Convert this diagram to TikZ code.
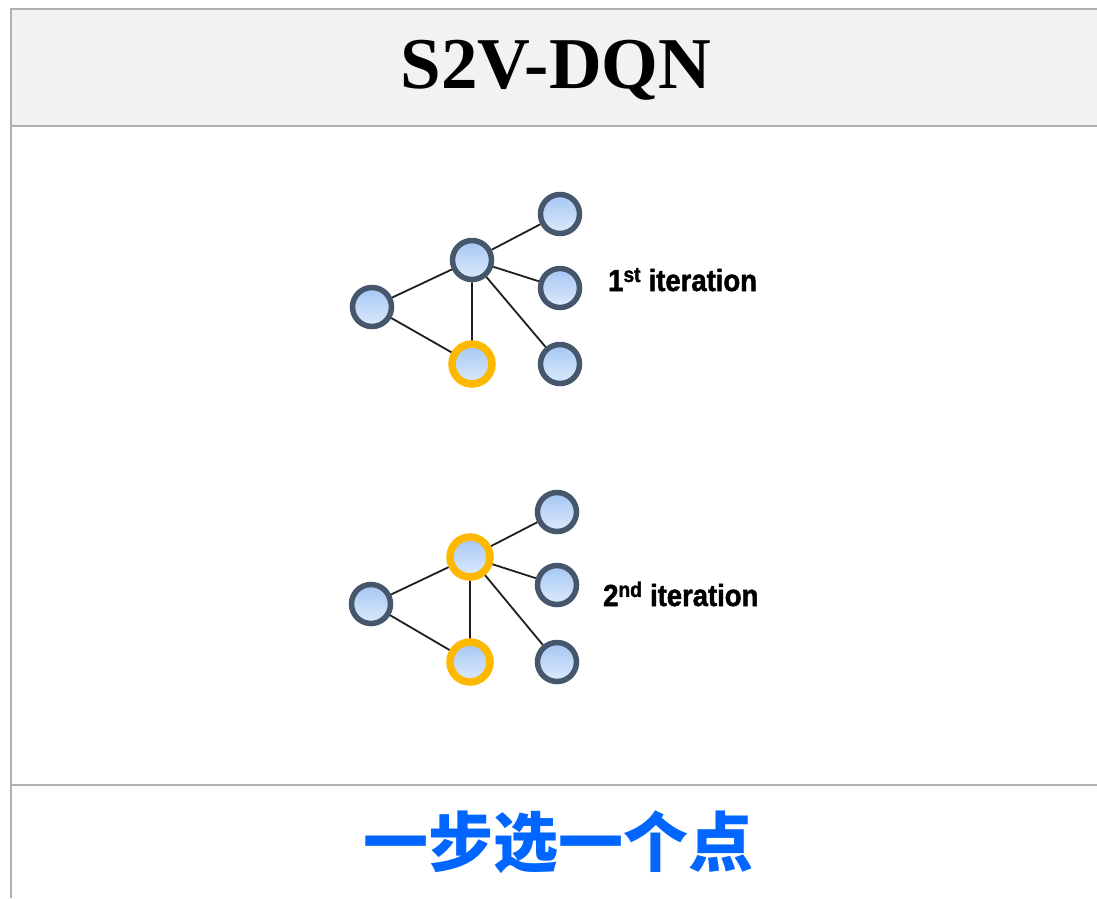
\documentclass[tikz,border=0pt]{standalone}
\usepackage{fontspec}
\setmainfont{Liberation Serif}
\newfontfamily\labelfont[FakeStretch=0.9, BoldFeatures={FakeBold=1.6}]{Liberation Sans}
\newfontfamily\cjkfont{Noto Sans CJK SC}
\usetikzlibrary{shadows.blur}
\definecolor{framegray}{HTML}{B0B0B0}
\definecolor{headbg}{HTML}{F2F2F2}
\definecolor{vtop}{HTML}{A4C6F4}
\definecolor{vbot}{HTML}{DDEBFB}
\definecolor{vrim}{HTML}{46566B}
\definecolor{picked}{HTML}{FFB800}
\definecolor{capblue}{HTML}{0066FF}
\tikzset{
  vertex/.style={circle, minimum size=39pt, inner sep=0pt,
    top color=vtop, bottom color=vbot, draw=vrim, line width=5.5pt,
    blur shadow={shadow xshift=1pt, shadow yshift=-1.5pt, shadow opacity=25, shadow blur steps=5}},
  chosen/.style={vertex, draw=picked, line width=7.5pt, minimum size=40pt},
  edge/.style={draw=black!88, line width=1.8pt},
  iterlabel/.style={anchor=base west, font=\labelfont\bfseries\fontsize{30.5}{32}\selectfont, inner sep=0pt},
  frameline/.style={draw=framegray, line width=2pt}
}
\begin{document}
\begin{tikzpicture}[x=1pt,y=-1pt]
\useasboundingbox (0,0) rectangle (1097,898);
% header band and table rules
\fill[headbg] (10.5,8.5) rectangle (1097,125.5);
\draw[frameline] (1097,8.5) -- (10.5,8.5) -- (10.5,898);
\draw[frameline] (10.5,125.5) -- (1097,125.5);
\draw[frameline] (10.5,785) -- (1097,785);
\node[font=\bfseries\fontsize{73}{76}\selectfont, inner sep=0pt] (title) at (556,70) {S2V-DQN};

% first iteration
\node[vertex] (a1) at (372,307) {};
\node[vertex] (c1) at (472,260) {};
\node[chosen] (y1) at (472,364) {};
\node[vertex] (t1) at (560,214) {};
\node[vertex] (m1) at (560,288) {};
\node[vertex] (b1) at (560,364) {};
\path[edge] (c1) -- (t1) (c1) -- (m1) (c1) -- (b1) (c1) -- (a1) (c1) -- (y1) (a1) -- (y1);
\node[iterlabel] (l1) at (608,291) {1\textsuperscript{st} iteration};

% second iteration
\node[vertex] (a2) at (371,604) {};
\node[chosen] (c2) at (470,557) {};
\node[chosen] (y2) at (470,662) {};
\node[vertex] (t2) at (557,512) {};
\node[vertex] (m2) at (557,585) {};
\node[vertex] (b2) at (557,662) {};
\path[edge] (c2) -- (t2) (c2) -- (m2) (c2) -- (b2) (c2) -- (a2) (c2) -- (y2) (a2) -- (y2);
\node[iterlabel] (l2) at (603,606) {2\textsuperscript{nd} iteration};

% caption
\node[font=\cjkfont\bfseries\fontsize{65}{70}\selectfont, text=capblue, inner sep=0pt] (cap) at (558,842) {一步选一个点};
\end{tikzpicture}
\end{document}
